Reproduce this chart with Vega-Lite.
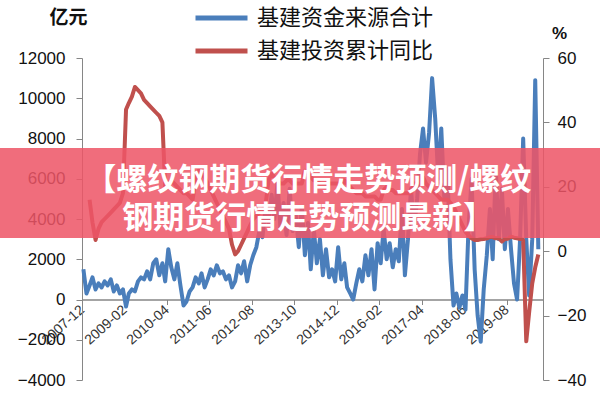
{
  "$schema": "https://vega.github.io/schema/vega-lite/v6.json",
  "width": 461,
  "height": 322,
  "autosize": {"type": "none"},
  "padding": {"left": 82, "top": 58, "right": 57, "bottom": 20},
  "background": "white",
  "config": {"view": {"stroke": null}, "font": "Liberation Sans"},
  "datasets": {
    "blue": [
      {"date":"2007-12-15","value":1500},{"date":"2008-01-15","value":300},{"date":"2008-02-15","value":700},{"date":"2008-03-15","value":1100},{"date":"2008-04-15","value":500},{"date":"2008-05-15","value":800},{"date":"2008-06-15","value":600},{"date":"2008-07-15","value":900},{"date":"2008-08-15","value":700},{"date":"2008-09-15","value":1000},{"date":"2008-10-15","value":400},{"date":"2008-11-15","value":700},{"date":"2008-12-15","value":300},
      {"date":"2009-01-15","value":500},{"date":"2009-02-15","value":-350},{"date":"2009-03-15","value":300},{"date":"2009-04-15","value":500},{"date":"2009-05-15","value":400},{"date":"2009-06-15","value":900},{"date":"2009-07-15","value":1100},{"date":"2009-08-15","value":1000},{"date":"2009-09-15","value":1400},{"date":"2009-10-15","value":1000},{"date":"2009-11-15","value":1800},{"date":"2009-12-15","value":2000},
      {"date":"2010-01-15","value":1200},{"date":"2010-02-15","value":1800},{"date":"2010-03-15","value":900},{"date":"2010-04-15","value":2500},{"date":"2010-05-15","value":1600},{"date":"2010-06-15","value":1000},{"date":"2010-07-15","value":1800},{"date":"2010-08-15","value":700},{"date":"2010-09-15","value":-300},{"date":"2010-10-15","value":-100},{"date":"2010-11-15","value":400},{"date":"2010-12-15","value":600},
      {"date":"2011-01-15","value":1100},{"date":"2011-02-15","value":800},{"date":"2011-03-15","value":1300},{"date":"2011-04-15","value":600},{"date":"2011-05-15","value":1000},{"date":"2011-06-15","value":1500},{"date":"2011-07-15","value":1200},{"date":"2011-08-15","value":1700},{"date":"2011-09-15","value":1300},{"date":"2011-10-15","value":1400},{"date":"2011-11-15","value":1000},{"date":"2011-12-15","value":1200},
      {"date":"2012-01-15","value":600},{"date":"2012-02-15","value":900},{"date":"2012-03-15","value":1700},{"date":"2012-04-15","value":1300},{"date":"2012-05-15","value":1900},{"date":"2012-06-15","value":900},{"date":"2012-07-15","value":1700},{"date":"2012-08-15","value":2200},{"date":"2012-09-15","value":2600},{"date":"2012-10-15","value":3400},{"date":"2012-11-15","value":3100},{"date":"2012-12-15","value":4500},
      {"date":"2013-01-15","value":3800},{"date":"2013-02-15","value":5200},{"date":"2013-03-15","value":4000},{"date":"2013-04-15","value":5800},{"date":"2013-05-15","value":3500},{"date":"2013-06-15","value":4800},{"date":"2013-07-15","value":3200},{"date":"2013-08-15","value":5500},{"date":"2013-09-15","value":3400},{"date":"2013-10-15","value":4200},{"date":"2013-11-15","value":2600},{"date":"2013-12-15","value":4600},
      {"date":"2014-01-15","value":2200},{"date":"2014-02-15","value":3800},{"date":"2014-03-15","value":1500},{"date":"2014-04-15","value":3500},{"date":"2014-05-15","value":1800},{"date":"2014-06-15","value":3000},{"date":"2014-07-15","value":1200},{"date":"2014-08-15","value":2500},{"date":"2014-09-15","value":1100},{"date":"2014-10-15","value":1500},{"date":"2014-11-15","value":900},{"date":"2014-12-15","value":2600},
      {"date":"2015-01-15","value":1000},{"date":"2015-02-15","value":1800},{"date":"2015-03-15","value":600},{"date":"2015-04-15","value":300},{"date":"2015-05-15","value":0},{"date":"2015-06-15","value":800},{"date":"2015-07-15","value":1500},{"date":"2015-08-15","value":900},{"date":"2015-09-15","value":2200},{"date":"2015-10-15","value":1200},{"date":"2015-11-15","value":2500},{"date":"2015-12-15","value":500},
      {"date":"2016-01-15","value":2800},{"date":"2016-02-15","value":1800},{"date":"2016-03-15","value":3500},{"date":"2016-04-15","value":2000},{"date":"2016-05-15","value":2800},{"date":"2016-06-15","value":1600},{"date":"2016-07-15","value":2500},{"date":"2016-08-15","value":1900},{"date":"2016-09-15","value":4500},{"date":"2016-10-15","value":1200},{"date":"2016-11-15","value":3000},{"date":"2016-12-15","value":5500},
      {"date":"2017-01-15","value":3500},{"date":"2017-02-15","value":5000},{"date":"2017-03-15","value":7200},{"date":"2017-04-15","value":8500},{"date":"2017-05-15","value":6800},{"date":"2017-06-15","value":8300},{"date":"2017-07-15","value":11000},{"date":"2017-08-15","value":9000},{"date":"2017-09-15","value":6000},{"date":"2017-10-15","value":8500},{"date":"2017-11-15","value":5000},{"date":"2017-12-15","value":6500},
      {"date":"2018-01-15","value":2000},{"date":"2018-02-15","value":-300},{"date":"2018-03-15","value":300},{"date":"2018-04-15","value":-400},{"date":"2018-05-15","value":200},{"date":"2018-06-15","value":-500},{"date":"2018-07-15","value":3500},{"date":"2018-08-15","value":6000},{"date":"2018-09-15","value":1500},{"date":"2018-10-15","value":-800},{"date":"2018-11-15","value":-2100},{"date":"2018-12-15","value":500},
      {"date":"2019-01-15","value":2200},{"date":"2019-02-15","value":4500},{"date":"2019-03-15","value":2000},{"date":"2019-04-15","value":6500},{"date":"2019-05-15","value":3000},{"date":"2019-06-15","value":5500},{"date":"2019-07-15","value":2500},{"date":"2019-08-15","value":4500},{"date":"2019-09-15","value":2500},{"date":"2019-10-15","value":800},{"date":"2019-11-15","value":0},{"date":"2019-12-15","value":3000},
      {"date":"2020-01-15","value":8000},{"date":"2020-02-15","value":3000},{"date":"2020-03-15","value":200},{"date":"2020-04-15","value":3000},{"date":"2020-05-15","value":10900},{"date":"2020-06-15","value":2500}
    ],
    "red": [
      {"date":"2008-02-15","value":16},{"date":"2008-03-15","value":9},{"date":"2008-04-15","value":3.5},{"date":"2008-05-15","value":7},{"date":"2008-06-15","value":9},{"date":"2008-07-15","value":10},{"date":"2008-08-15","value":11},{"date":"2008-09-15","value":12},{"date":"2008-10-15","value":13},{"date":"2008-11-15","value":14},{"date":"2008-12-15","value":15},
      {"date":"2009-01-15","value":18},{"date":"2009-02-15","value":44},{"date":"2009-03-15","value":46},{"date":"2009-04-15","value":48},{"date":"2009-05-15","value":51},{"date":"2009-06-15","value":50},{"date":"2009-07-15","value":49},{"date":"2009-08-15","value":47},{"date":"2009-09-15","value":46},{"date":"2009-10-15","value":45},{"date":"2009-11-15","value":44},{"date":"2009-12-15","value":43},
      {"date":"2010-01-15","value":42},{"date":"2010-02-15","value":40},{"date":"2010-03-15","value":20},{"date":"2010-04-15","value":21},{"date":"2010-05-15","value":22},{"date":"2010-06-15","value":21},{"date":"2010-07-15","value":20},{"date":"2010-08-15","value":19},{"date":"2010-09-15","value":18},{"date":"2010-10-15","value":18},{"date":"2010-11-15","value":17},{"date":"2010-12-15","value":16},
      {"date":"2011-01-15","value":22},{"date":"2011-02-15","value":25},{"date":"2011-03-15","value":24},{"date":"2011-04-15","value":23},{"date":"2011-05-15","value":21},{"date":"2011-06-15","value":19},{"date":"2011-07-15","value":17},{"date":"2011-08-15","value":15},{"date":"2011-09-15","value":13},{"date":"2011-10-15","value":11},{"date":"2011-11-15","value":9},{"date":"2011-12-15","value":7},
      {"date":"2012-01-15","value":2},{"date":"2012-02-15","value":-1},{"date":"2012-03-15","value":0},{"date":"2012-04-15","value":2},{"date":"2012-05-15","value":4},{"date":"2012-06-15","value":6},{"date":"2012-07-15","value":8},{"date":"2012-08-15","value":10},{"date":"2012-09-15","value":11},{"date":"2012-10-15","value":12},{"date":"2012-11-15","value":13},{"date":"2012-12-15","value":14},
      {"date":"2013-01-15","value":22},{"date":"2013-02-15","value":24},{"date":"2013-03-15","value":23},{"date":"2013-04-15","value":22},{"date":"2013-05-15","value":21},{"date":"2013-06-15","value":21},{"date":"2013-07-15","value":22},{"date":"2013-08-15","value":22},{"date":"2013-09-15","value":21},{"date":"2013-10-15","value":21},{"date":"2013-11-15","value":21},{"date":"2013-12-15","value":21},
      {"date":"2014-01-15","value":25},{"date":"2014-02-15","value":24},{"date":"2014-03-15","value":23},{"date":"2014-04-15","value":22},{"date":"2014-05-15","value":22},{"date":"2014-06-15","value":21},{"date":"2014-07-15","value":21},{"date":"2014-08-15","value":21},{"date":"2014-09-15","value":21},{"date":"2014-10-15","value":21},{"date":"2014-11-15","value":21},{"date":"2014-12-15","value":21},
      {"date":"2015-01-15","value":20},{"date":"2015-02-15","value":22},{"date":"2015-03-15","value":21},{"date":"2015-04-15","value":20},{"date":"2015-05-15","value":19},{"date":"2015-06-15","value":18},{"date":"2015-07-15","value":18},{"date":"2015-08-15","value":18},{"date":"2015-09-15","value":17},{"date":"2015-10-15","value":17},{"date":"2015-11-15","value":17},{"date":"2015-12-15","value":17},
      {"date":"2016-01-15","value":16},{"date":"2016-02-15","value":16},{"date":"2016-03-15","value":19},{"date":"2016-04-15","value":20},{"date":"2016-05-15","value":19},{"date":"2016-06-15","value":19},{"date":"2016-07-15","value":18},{"date":"2016-08-15","value":18},{"date":"2016-09-15","value":18},{"date":"2016-10-15","value":18},{"date":"2016-11-15","value":18},{"date":"2016-12-15","value":18},
      {"date":"2017-01-15","value":21},{"date":"2017-02-15","value":21},{"date":"2017-03-15","value":23},{"date":"2017-04-15","value":23},{"date":"2017-05-15","value":21},{"date":"2017-06-15","value":20},{"date":"2017-07-15","value":19},{"date":"2017-08-15","value":18},{"date":"2017-09-15","value":17},{"date":"2017-10-15","value":16},{"date":"2017-11-15","value":16},{"date":"2017-12-15","value":16},
      {"date":"2018-01-15","value":15},{"date":"2018-02-15","value":14},{"date":"2018-03-15","value":12},{"date":"2018-04-15","value":10},{"date":"2018-05-15","value":8},{"date":"2018-06-15","value":6},{"date":"2018-07-15","value":5},{"date":"2018-08-15","value":4},{"date":"2018-09-15","value":3.5},{"date":"2018-10-15","value":3.5},{"date":"2018-11-15","value":3.7},{"date":"2018-12-15","value":3.8},
      {"date":"2019-01-15","value":4},{"date":"2019-02-15","value":4.4},{"date":"2019-03-15","value":4.4},{"date":"2019-04-15","value":4},{"date":"2019-05-15","value":4.1},{"date":"2019-06-15","value":3},{"date":"2019-07-15","value":3.8},{"date":"2019-08-15","value":3.9},{"date":"2019-09-15","value":4.5},{"date":"2019-10-15","value":4.2},{"date":"2019-11-15","value":4},{"date":"2019-12-15","value":3.8},
      {"date":"2020-01-15","value":3.5},{"date":"2020-02-15","value":-28},{"date":"2020-03-15","value":-19},{"date":"2020-04-15","value":-10},{"date":"2020-05-15","value":-5},{"date":"2020-06-15","value":-1}
    ],
    "banner": [
      {"x0":"2005-06-01","x1":"2022-06-01","y0":3050,"y1":7530}
    ],
    "bannerText": [
      {"date":"2014-02-19","value":5900,"text":"【螺纹钢期货行情走势预测/螺纹"},
      {"date":"2014-02-19","value":4000,"text":"钢期货行情走势预测最新】"}
    ]
  },
  "layer": [
    {
      "data": {"name": "blue"},
      "mark": {"type": "line", "strokeWidth": 4, "strokeJoin": "round"},
      "encoding": {
        "x": {
          "field": "date", "type": "temporal",
          "scale": {"domain": [{"year":2007,"month":12,"date":1},{"year":2020,"month":8,"date":1}]},
          "axis": {
            "values": [{"year":2007,"month":12,"date":1},{"year":2009,"month":2,"date":1},{"year":2010,"month":4,"date":1},{"year":2011,"month":6,"date":1},{"year":2012,"month":8,"date":1},{"year":2013,"month":10,"date":1},{"year":2014,"month":12,"date":1},{"year":2016,"month":2,"date":1},{"year":2017,"month":4,"date":1},{"year":2018,"month":6,"date":1},{"year":2019,"month":8,"date":1}],
            "format": "%Y-%m", "labelAngle": -42, "labelAlign": "right", "labelBaseline": "middle",
            "labelFontSize": 14, "labelColor": "#333333", "labelPadding": 3, "labelOverlap": false, "labelFlush": false,
            "offset": -80.5, "tickSize": 5, "domainColor": "#868686", "tickColor": "#868686", "domainWidth": 1.5,
            "title": null, "grid": false
          }
        },
        "y": {
          "field": "value", "type": "quantitative",
          "scale": {"domain": [-4000, 12000], "nice": false},
          "axis": {
            "orient": "left", "values": [-4000,-2000,0,2000,4000,6000,8000,10000,12000], "format": "d",
            "labelFontSize": 17, "labelColor": "#111111", "labelPadding": 11, "tickSize": 6,
            "domainColor": "#868686", "tickColor": "#868686", "grid": false,
            "title": "亿元", "titleAngle": 0, "titleX": -14, "titleY": -41, "titleAlign": "center", "titleBaseline": "middle",
            "titleFont": "Noto Sans CJK SC", "titleFontSize": 19, "titleFontWeight": "bold", "titleColor": "#111111"
          }
        },
        "color": {
          "datum": "基建资金来源合计",
          "scale": {"domain": ["基建资金来源合计", "基建投资累计同比"], "range": ["#4a7ebb", "#c0504d"]},
          "legend": {
            "orient": "none", "legendX": 111, "legendY": -53, "direction": "vertical", "title": null,
            "padding": 0, "symbolType": "stroke", "symbolSize": 2704, "symbolStrokeWidth": 5,
            "labelFont": "Noto Sans CJK SC", "labelFontSize": 22, "labelColor": "#111111", "labelOffset": 7, "labelLimit": 400,
            "clipHeight": 26, "rowPadding": 7
          }
        }
      }
    },
    {
      "data": {"name": "red"},
      "mark": {"type": "line", "strokeWidth": 4, "strokeJoin": "round"},
      "encoding": {
        "x": {
          "field": "date", "type": "temporal",
          "scale": {"domain": [{"year":2007,"month":12,"date":1},{"year":2020,"month":8,"date":1}]}
        },
        "y": {
          "field": "value", "type": "quantitative",
          "scale": {"domain": [-40, 60], "nice": false},
          "axis": {
            "orient": "right", "values": [-40,-20,0,20,40,60],
            "labelFontSize": 17, "labelColor": "#111111", "labelPadding": 8, "tickSize": 6,
            "domainColor": "#868686", "tickColor": "#868686", "grid": false,
            "title": "%", "titleAngle": 0, "titleX": 16, "titleY": -25, "titleAlign": "center", "titleBaseline": "middle",
            "titleFontSize": 17, "titleFontWeight": "bold", "titleColor": "#111111"
          }
        },
        "color": {"datum": "基建投资累计同比"}
      }
    },
    {
      "data": {"name": "banner"},
      "mark": {"type": "rect", "color": "#ee5566", "opacity": 0.86, "clip": false},
      "encoding": {
        "x": {"field": "x0", "type": "temporal", "scale": {"domain": [{"year":2007,"month":12,"date":1},{"year":2020,"month":8,"date":1}]}},
        "x2": {"field": "x1"},
        "y": {"field": "y0", "type": "quantitative", "scale": {"domain": [-4000, 12000], "nice": false}, "axis": null},
        "y2": {"field": "y1"}
      }
    },
    {
      "data": {"name": "bannerText"},
      "mark": {"type": "text", "color": "white", "font": "Noto Sans CJK SC", "fontSize": 31, "fontWeight": "bold", "align": "center", "baseline": "middle", "clip": false},
      "encoding": {
        "x": {"field": "date", "type": "temporal", "scale": {"domain": [{"year":2007,"month":12,"date":1},{"year":2020,"month":8,"date":1}]}},
        "y": {"field": "value", "type": "quantitative", "scale": {"domain": [-4000, 12000], "nice": false}, "axis": null},
        "text": {"field": "text"}
      }
    }
  ],
  "resolve": {"scale": {"y": "independent"}}
}
